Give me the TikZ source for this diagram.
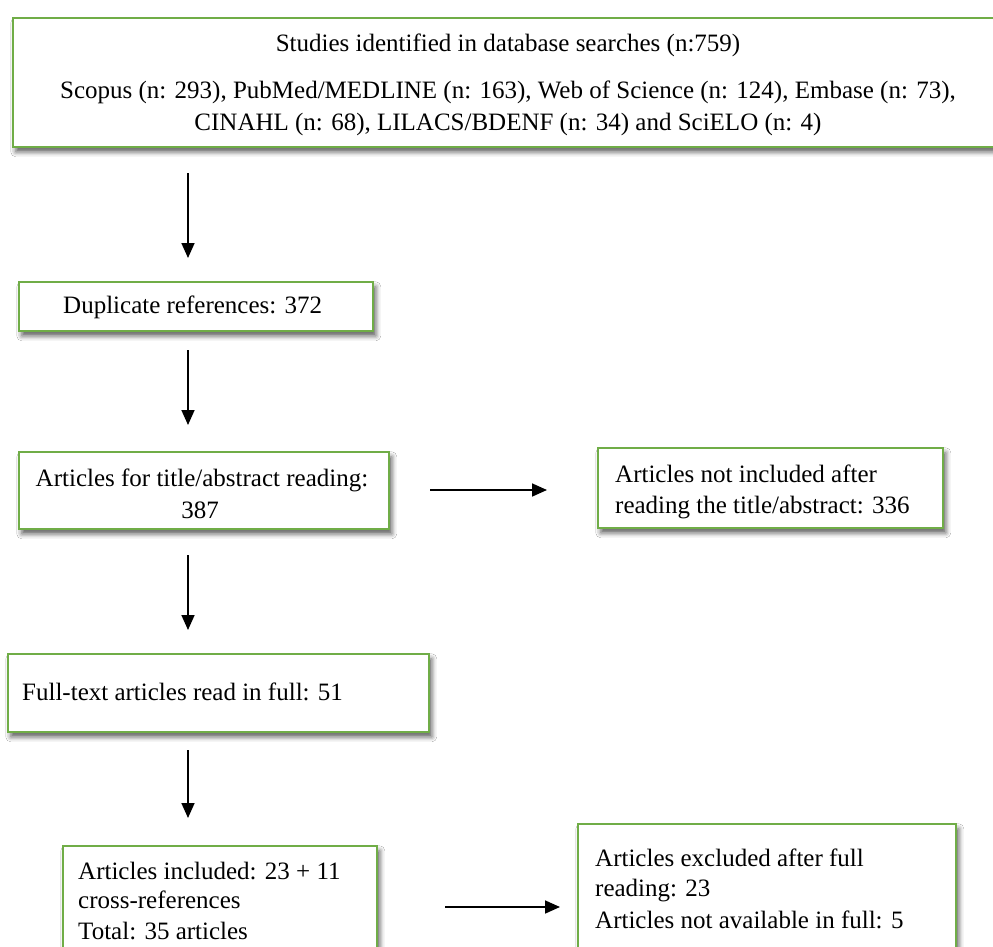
\documentclass[tikz,border=0pt]{standalone}
\usepackage{fontspec}
\setmainfont{Liberation Serif}
\usetikzlibrary{arrows.meta,shadows.blur}
\definecolor{boxgreen}{HTML}{70AD47}
\tikzset{
  box/.style={draw=boxgreen,line width=1.6pt,fill=white,anchor=north west,inner sep=0pt,
    blur shadow={shadow xshift=3pt,shadow yshift=-5pt,shadow blur radius=5pt,shadow opacity=65}},
  txt/.style={inner sep=0pt,font=\fontsize{25}{31}\selectfont},
  conn/.style={line width=1.7pt,-{Triangle[length=15pt,width=13pt]}}
}
\begin{document}
\begin{tikzpicture}[x=1pt,y=-1pt]
\useasboundingbox (0,0) rectangle (993,947);
\clip (0,0) rectangle (993,947);
\fill[white] (0,0) rectangle (993,947);
% boxes
\node[box,minimum width=1000pt,minimum height=129pt] (b1) at (12,17) {};
\node[box,minimum width=354pt,minimum height=49pt] (b2) at (18,281) {};
\node[box,minimum width=370pt,minimum height=77pt] (b3) at (18,451) {};
\node[box,minimum width=345pt,minimum height=80pt] (b4) at (597,447) {};
\node[box,minimum width=421pt,minimum height=78pt] (b5) at (7,653) {};
\node[box,minimum width=314pt,minimum height=130pt] (b6) at (62,845) {};
\node[box,minimum width=378pt,minimum height=150pt] (b7) at (577,823) {};
% texts
\node[txt,anchor=mid] (t1a) at (508,49) {Studies identified in database searches (n:759)};
\node[txt,anchor=mid] (t1b) at (508,96) {Scopus (n: 293), PubMed/MEDLINE (n: 163), Web of Science (n: 124), Embase (n: 73),};
\node[txt,anchor=mid] (t1c) at (508,128) {CINAHL (n: 68), LILACS/BDENF (n: 34) and SciELO (n: 4)};
\node[txt,anchor=mid west] (t2) at (63,311) {Duplicate references: 372};
\node[txt,anchor=mid] (t3a) at (202,484) {Articles for title/abstract reading:};
\node[txt,anchor=mid] (t3b) at (200,516) {387};
\node[txt,anchor=mid west] (t4a) at (615,480) {Articles not included after};
\node[txt,anchor=mid west] (t4b) at (615,511) {reading the title/abstract: 336};
\node[txt,anchor=mid west] (t5) at (22,698) {Full-text articles read in full: 51};
\node[txt,anchor=mid west] (t6a) at (78,877) {Articles included: 23 + 11};
\node[txt,anchor=mid west] (t6b) at (78,906) {cross-references};
\node[txt,anchor=mid west] (t6c) at (78,937) {Total: 35 articles};
\node[txt,anchor=mid west] (t7a) at (595,864) {Articles excluded after full};
\node[txt,anchor=mid west] (t7b) at (595,894) {reading: 23};
\node[txt,anchor=mid west] (t7c) at (595,926) {Articles not available in full: 5};
% connector end points
\coordinate (a1s) at (188,173); \coordinate (a1e) at (188,258);
\coordinate (a2s) at (188,350); \coordinate (a2e) at (188,425);
\coordinate (a3s) at (188,555); \coordinate (a3e) at (188,630);
\coordinate (a4s) at (188,750); \coordinate (a4e) at (188,818);
\coordinate (h1s) at (430,490); \coordinate (h1e) at (547,490);
\coordinate (h2s) at (445,907); \coordinate (h2e) at (560,907);
\draw[conn] (a1s) -- (a1e);
\draw[conn] (a2s) -- (a2e);
\draw[conn] (a3s) -- (a3e);
\draw[conn] (a4s) -- (a4e);
\draw[conn] (h1s) -- (h1e);
\draw[conn] (h2s) -- (h2e);
\end{tikzpicture}
\end{document}
